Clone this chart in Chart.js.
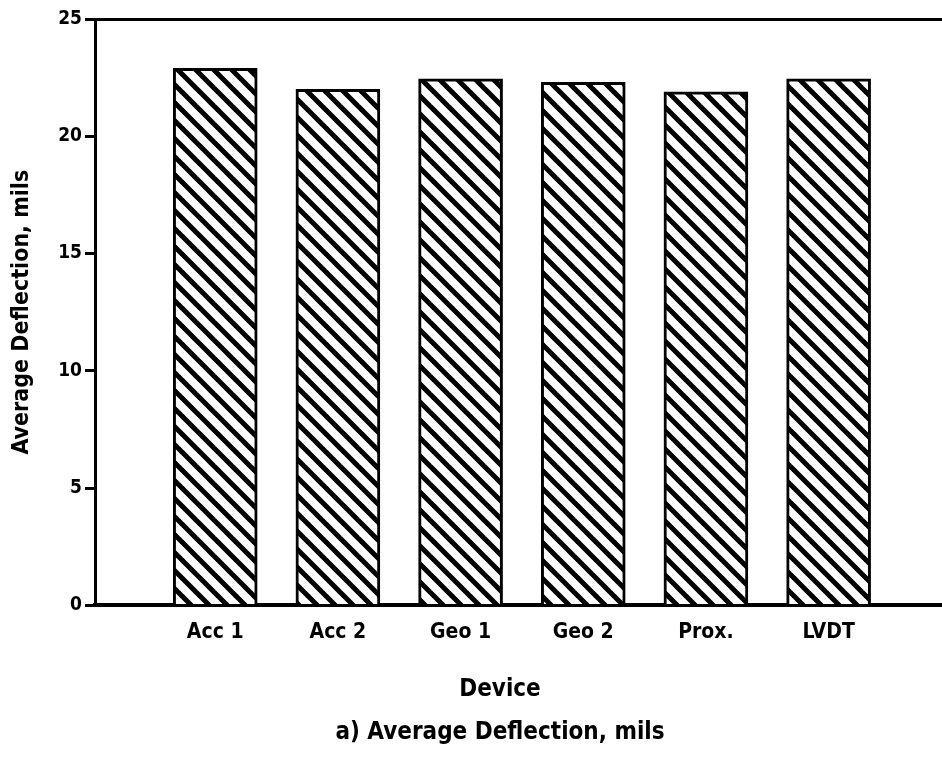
<!DOCTYPE html>
<html>
<head>
<meta charset="utf-8">
<title>Average Deflection</title>
<script src="https://cdn.jsdelivr.net/npm/chart.js@4"></script>
<style>
  html, body { margin: 0; padding: 0; background: #fff; overflow: hidden; }
  /* the plot frame runs off the right edge of the original figure */
  #wrap { width: 1000px; height: 757px; position: relative; }
</style>
</head>
<body>
<div id="wrap"><canvas id="myChart"></canvas></div>
<script>
const DEVICES = ['Acc 1', 'Acc 2', 'Geo 1', 'Geo 2', 'Prox.', 'LVDT'];
const DEFLECTION = [22.9, 22.0, 22.45, 22.3, 21.9, 22.45];
const Y_TICKS = [0, 5, 10, 15, 20, 25];

const FONT = "'DejaVu Sans Condensed', 'DejaVu Sans', sans-serif";

// diagonal hatch fill like the printed figure
function hatch() {
    const size = 18;
    const c = document.createElement('canvas');
    c.width = size; c.height = size;
    const g = c.getContext('2d');
    g.fillStyle = '#fff';
    g.fillRect(0, 0, size, size);
    g.strokeStyle = '#000';
    g.lineWidth = 5;
    g.lineCap = 'square';
    for (const k of [-size, 0, size]) {
        g.beginPath();
        g.moveTo(k - 4, -4);
        g.lineTo(k + size + 4, size + 4);
        g.stroke();
    }
    return g.createPattern(c, 'repeat');
}

Chart.defaults.font.family = FONT;
Chart.defaults.font.weight = 'bold';
Chart.defaults.color = '#000';

new Chart(document.getElementById('myChart'), {
    type: 'bar',
    data: {
        datasets: [{
            data: DEVICES.map((d, i) => ({ x: i + 1, y: DEFLECTION[i] })),
            backgroundColor: hatch(),
            borderColor: '#000',
            borderWidth: 3,
            borderSkipped: 'bottom',
            barThickness: 84,
        }]
    },
    options: {
        responsive: true,
        maintainAspectRatio: false,
        animation: false,
        layout: { padding: { top: 19, right: 0, left: 0, bottom: 0 } },
        plugins: {
            legend: { display: false },
            tooltip: { enabled: false },
            title: {
                display: true,
                position: 'bottom',
                text: 'a) Average Deflection, mils',
                font: { size: 24, weight: 'bold', family: FONT },
                padding: { top: 12, bottom: 10 },
            },
            subtitle: {
                display: true,
                position: 'bottom',
                text: 'Device',
                color: '#000',
                font: { size: 24, weight: 'bold', family: FONT },
                padding: { top: 30, bottom: 2 },
            },
        },
        scales: {
            x: {
                type: 'linear',
                offset: false,
                min: 0.02,
                max: 7.34,
                grid: { display: false },
                border: { color: '#000', width: 4 },
                ticks: {
                    stepSize: 1,
                    autoSkip: false,
                    maxRotation: 0,
                    padding: 7,
                    font: { size: 21, weight: 'bold' },
                    callback: v => (Number.isInteger(v) && v >= 1 && v <= DEVICES.length) ? DEVICES[v - 1] : '',
                },
                afterFit: s => { s.height = 40; },
            },
            y: {
                min: 0,
                max: 25,
                afterBuildTicks: s => { s.ticks = Y_TICKS.map(v => ({ value: v })); },
                grid: {
                    color: c => c.tick && c.tick.value === 25 ? '#000' : 'transparent',
                    lineWidth: 3,
                    tickColor: '#000',
                    tickWidth: 3,
                    tickLength: 10,
                },
                border: { color: '#000', width: 3 },
                ticks: {
                    padding: 3,
                    font: { size: 19, weight: 'bold' },
                },
                title: {
                    display: true,
                    text: 'Average Deflection, mils',
                    font: { size: 23, weight: 'bold' },
                    padding: { top: 8, bottom: 0 },
                },
                afterFit: s => { s.width = 95; },
            }
        }
    }
});
</script>
</body>
</html>
